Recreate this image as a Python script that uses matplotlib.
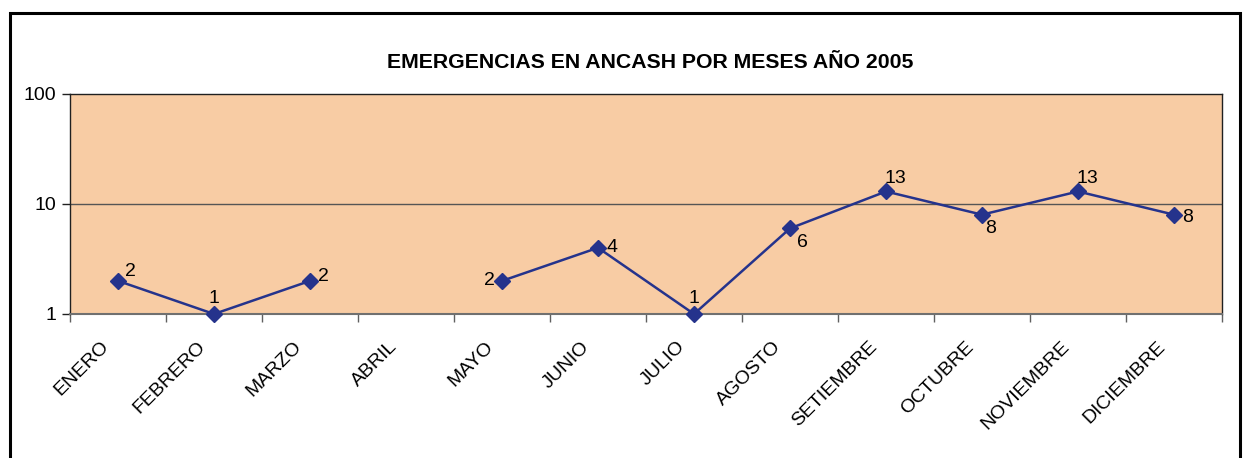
import matplotlib
matplotlib.use("Agg")
import matplotlib.pyplot as plt
import numpy as np
from matplotlib.patches import Rectangle

plt.rcParams['font.family'] = ['Liberation Sans', 'DejaVu Sans']

months = ["ENERO", "FEBRERO", "MARZO", "ABRIL", "MAYO", "JUNIO", "JULIO",
          "AGOSTO", "SETIEMBRE", "OCTUBRE", "NOVIEMBRE", "DICIEMBRE"]
values = [2, 1, 2, None, 2, 4, 1, 6, 13, 8, 13, 8]
# label offsets in points (dx, dy)
label_offsets = [(9, 7), (0, 11), (10, 3), None, (-9, 0), (10, 0), (0, 11),
                 (9, -10), (7, 9), (6, -10), (7, 9), (10, -2)]

W, H = 1244, 458
fig = plt.figure(figsize=(W / 100, H / 100), dpi=100)
ax = fig.add_axes([70 / W, 1 - 314 / H, (1222 - 70) / W, (314 - 94) / H])
ax.set_facecolor("#F8CCA4")

x = np.arange(len(months))
y = np.array([np.nan if v is None else v for v in values], dtype=float)
ax.plot(x, y, color="#25338C", lw=1.8, marker="D", ms=8, mfc="#25338C", mec="#25338C",
        clip_on=False, zorder=3)

for xi, v, off in zip(x, values, label_offsets):
    if v is None:
        continue
    ax.annotate(str(v), (xi, v), xytext=off, textcoords="offset points",
                ha="center", va="center", fontsize=14)

ax.set_yscale("log")
ax.set_ylim(1, 100)
ax.set_xlim(-0.5, len(months) - 0.5)
ax.set_yticks([1, 10, 100])
ax.set_yticklabels(["1", "10", "100"], fontsize=14)
ax.yaxis.set_minor_locator(matplotlib.ticker.NullLocator())
ax.axhline(10, color="#555555", lw=1.0, zorder=1)

ax.set_xticks(np.arange(len(months) + 1) - 0.5)
ax.set_xticklabels([])
ax.tick_params(axis="x", direction="out", length=6, color="#606060", width=1)
ax.tick_params(axis="y", direction="out", length=6, color="#202020", width=1, pad=4)
for xi, m in zip(x, months):
    ax.text(xi - 0.18, -0.11, m, rotation=45, ha="right", va="top",
            rotation_mode="anchor", fontsize=14,
            transform=ax.get_xaxis_transform())

for s in ["top", "right", "left"]:
    ax.spines[s].set_color("#202020")
    ax.spines[s].set_linewidth(1.0)
ax.spines["bottom"].set_color("#707070")
ax.spines["bottom"].set_linewidth(1.5)

fig.text(650 / W, 1 - 63 / H, "EMERGENCIAS EN ANCASH POR MESES AÑO 2005",
         ha="center", va="center", fontsize=15.3, fontweight="bold")

fig.patches.append(Rectangle((10 / W, -0.1), (1240 - 10) / W, 1.1 - 13 / H,
                             transform=fig.transFigure, fill=False,
                             edgecolor="black", lw=2.2))

fig.savefig("out.png", dpi=100)
